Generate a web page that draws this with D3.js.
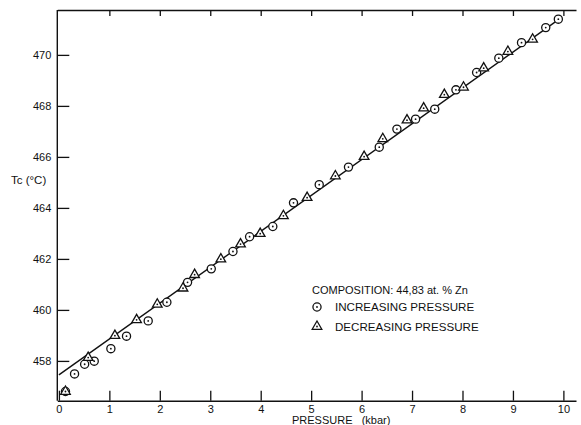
<!DOCTYPE html>
<html>
<head>
<meta charset="utf-8">
<script src="https://cdn.jsdelivr.net/npm/d3@7"></script>
<style>
  html, body { margin: 0; padding: 0; background: #fff; }
  svg text { font-family: "Liberation Sans", Arial, sans-serif; fill: #111; }
</style>
</head>
<body>
<svg id="chart" width="581" height="425"></svg>
<script>
// increasing pressure (circles)
const incP = [0.13, 0.31, 0.51, 0.70, 1.03, 1.34, 1.77, 2.14, 2.55, 3.02, 3.45, 3.78, 4.24,
  4.65, 5.16, 5.74, 6.35, 6.70, 7.07, 7.45, 7.87, 8.28, 8.72, 9.17, 9.65, 9.90];
const incT = [456.80, 457.49, 457.87, 457.99, 458.48, 458.97, 459.57, 460.30, 461.08, 461.61,
  462.29, 462.87, 463.27, 464.20, 464.91, 465.60, 466.38, 467.09, 467.48, 467.87, 468.63,
  469.31, 469.87, 470.48, 471.07, 471.40];

// decreasing pressure (triangles)
const decP = [0.13, 0.58, 1.11, 1.54, 1.95, 2.46, 2.69, 3.21, 3.60, 3.99, 4.45, 4.92, 5.48,
  6.05, 6.42, 6.90, 7.23, 7.64, 8.02, 8.42, 8.90, 9.39];
const decT = [456.80, 458.13, 458.99, 459.61, 460.22, 460.85, 461.38, 461.99, 462.58, 462.99,
  463.69, 464.40, 465.25, 466.01, 466.71, 467.44, 467.91, 468.44, 468.73, 469.48, 470.13,
  470.61];

// fitted straight line
const fitP = [0, 9.93];
const fitT = [457.45, 471.42];

const xTicks = [0, 1, 2, 3, 4, 5, 6, 7, 8, 9, 10];
const yTicks = [458, 460, 462, 464, 466, 468, 470];

const legendTitle = "COMPOSITION: 44,83 at. % Zn";
const legendLabels = ["INCREASING PRESSURE", "DECREASING PRESSURE"];

const svg = d3.select("#chart");
const plotLeft = 57.3;
const plotRight = 576;
const plotTop = 10;
const plotBottom = 400.7;

const xScale = d3.scaleLinear().domain([-0.032, 10.25]).range([plotLeft, plotRight]);
const yScale = d3.scaleLinear().domain([456.44, 471.76]).range([plotBottom, plotTop]);

// bottom axis, ticks pointing up into the plot
const xAxis = svg.append("g")
  .attr("transform", `translate(0, ${plotBottom})`)
  .call(d3.axisBottom(xScale).tickValues(xTicks).tickSizeInner(-10).tickSizeOuter(0)
    .tickFormat(d3.format("d")));

// top frame with short ticks pointing down
svg.append("g")
  .attr("transform", `translate(0, ${plotTop})`)
  .call(d3.axisTop(xScale).tickValues(xTicks.slice(1)).tickSizeInner(-6).tickSizeOuter(0)
    .tickFormat(""));

// left axis, ticks pointing right
const yAxis = svg.append("g")
  .attr("transform", `translate(${plotLeft}, 0)`)
  .call(d3.axisLeft(yScale).tickValues(yTicks).tickSizeInner(-12).tickSizeOuter(0).tickPadding(6)
    .tickFormat(d3.format("d")));

svg.selectAll(".domain").attr("stroke", "#111").attr("stroke-width", 1.4);
svg.selectAll(".tick line").attr("stroke", "#111").attr("stroke-width", 1.3);
svg.selectAll(".tick text").style("font-size", "11px").attr("fill", "#111");

// x tick labels sit just below the axis line
xAxis.selectAll(".tick text").attr("y", 4.5);

// y axis line spans the whole frame
yAxis.select(".domain").attr("d", `M0,${plotTop}V${plotBottom}`);

// axis titles
svg.append("text")
  .attr("x", 11)
  .attr("y", 184)
  .style("font-size", "11.5px")
  .text("Tc (°C)");

svg.append("text")
  .attr("x", 292)
  .attr("y", 424)
  .style("font-size", "11px")
  .attr("xml:space", "preserve")
  .text("PRESSURE   (kbar)");

// fitted line
const line = d3.line()
  .x((d) => xScale(d[0]))
  .y((d) => yScale(d[1]));

svg.append("path")
  .datum(d3.zip(fitP, fitT))
  .attr("fill", "none")
  .attr("stroke", "#111")
  .attr("stroke-width", 1.4)
  .attr("d", line);

// markers
const circleSym = d3.symbol().type(d3.symbolCircle).size(52);
const triSym = d3.symbol().type(d3.symbolTriangle).size(40);

function drawMarkers(ps, ts, sym) {
  const g = svg.append("g");
  const pts = d3.zip(ps, ts);
  g.selectAll("path.mk")
    .data(pts)
    .join("path")
    .attr("class", "mk")
    .attr("transform", (d) => `translate(${xScale(d[0])}, ${yScale(d[1])})`)
    .attr("d", sym)
    .attr("fill", "#fff")
    .attr("stroke", "#111")
    .attr("stroke-width", 1.3);
  g.selectAll("circle.dot")
    .data(pts)
    .join("circle")
    .attr("class", "dot")
    .attr("cx", (d) => xScale(d[0]))
    .attr("cy", (d) => yScale(d[1]))
    .attr("r", 0.9)
    .attr("fill", "#111");
}

drawMarkers(incP, incT, circleSym);
drawMarkers(decP, decT, triSym);

// legend
const legend = svg.append("g").attr("transform", "translate(312, 294)");
legend.append("text")
  .attr("x", 0)
  .attr("y", 0)
  .style("font-size", "11px")
  .text(legendTitle);

const syms = [circleSym, triSym];
legendLabels.forEach((lab, i) => {
  const yy = 13 + i * 19.5;
  legend.append("path")
    .attr("transform", `translate(5, ${yy})`)
    .attr("d", syms[i])
    .attr("fill", "#fff")
    .attr("stroke", "#111")
    .attr("stroke-width", 1.3);
  legend.append("circle")
    .attr("cx", 5)
    .attr("cy", yy)
    .attr("r", 0.9)
    .attr("fill", "#111");
  legend.append("text")
    .attr("x", 23)
    .attr("y", yy + 4)
    .style("font-size", "11.6px")
    .text(lab);
});
</script>
</body>
</html>
